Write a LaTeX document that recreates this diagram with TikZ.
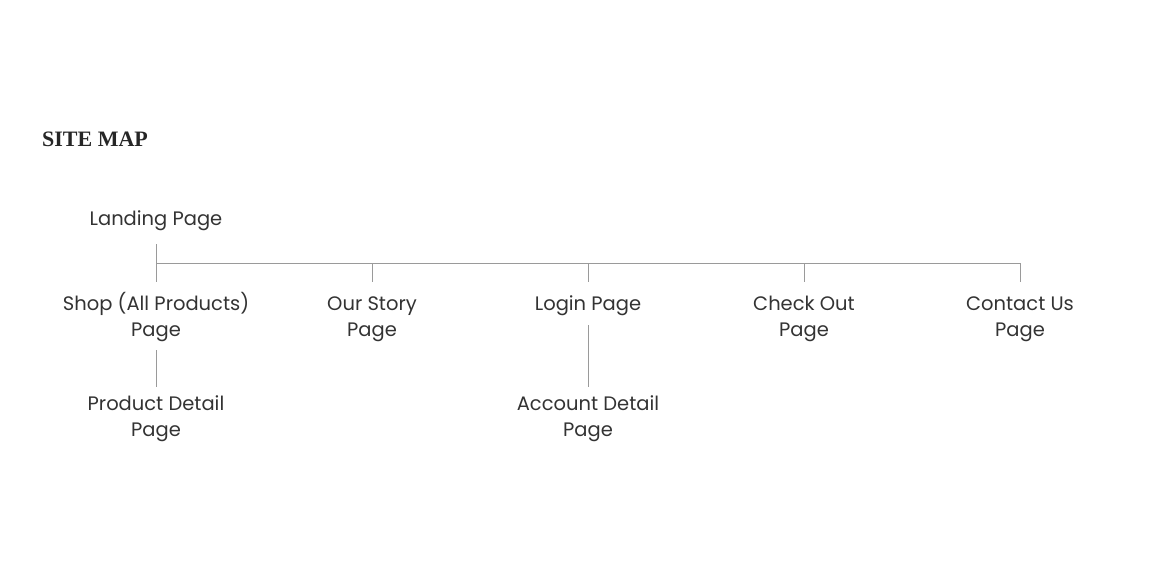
\documentclass[tikz,border=0pt]{standalone}
\usepackage{fontspec}
\setmainfont{Poppins}
\newfontfamily\titlefont{Liberation Serif}
\usetikzlibrary{positioning}

\definecolor{inkgray}{HTML}{333333}
\definecolor{linegray}{HTML}{9A9A9A}

\tikzset{
  page/.style={font=\fontsize{19.5}{26}\selectfont, text=inkgray, align=center, inner sep=0pt, anchor=base},
  link/.style={draw=linegray, line width=0.9pt},
}

\begin{document}
\begin{tikzpicture}[x=1pt,y=-1pt]
\useasboundingbox (0,0) rectangle (1176,584);

% title
\node[anchor=base west, inner sep=0pt, text=black!85,
  font=\titlefont\fontsize{22}{24}\selectfont\bfseries] (title) at (42,146) {SITE MAP};

% pages (base = last line)
\node[page] (land) at (156,225) {Landing Page};

\node[page] (shop) at (156,336) {Shop (All Products)\\Page};
\node[page] (story) at (372,336) {Our Story\\Page};
\node[page] (login) at (588,310) {Login Page};
\node[page] (checkout) at (804,336) {Check Out\\Page};
\node[page] (contact) at (1020,336) {Contact Us\\Page};

\node[page] (product) at (156,436) {Product Detail\\Page};
\node[page] (account) at (588,436) {Account Detail\\Page};

% bus
\coordinate (bus) at (0,263);
\coordinate (drop) at (0,282);

\draw[link, shorten <=14pt] (land.south) -- (drop -| land);
\draw[link] (bus -| land) -- (bus -| contact);
\draw[link] (bus -| story) -- (drop -| story);
\draw[link] (bus -| login) -- (drop -| login);
\draw[link] (bus -| checkout) -- (drop -| checkout);
\draw[link] (bus -| contact) -- (drop -| contact);

\draw[link, shorten <=9pt, shorten >=8pt] (shop.south) -- (product.north);
\draw[link, shorten <=10pt, shorten >=8pt] (login.south) -- (account.north);

\end{tikzpicture}
\end{document}
